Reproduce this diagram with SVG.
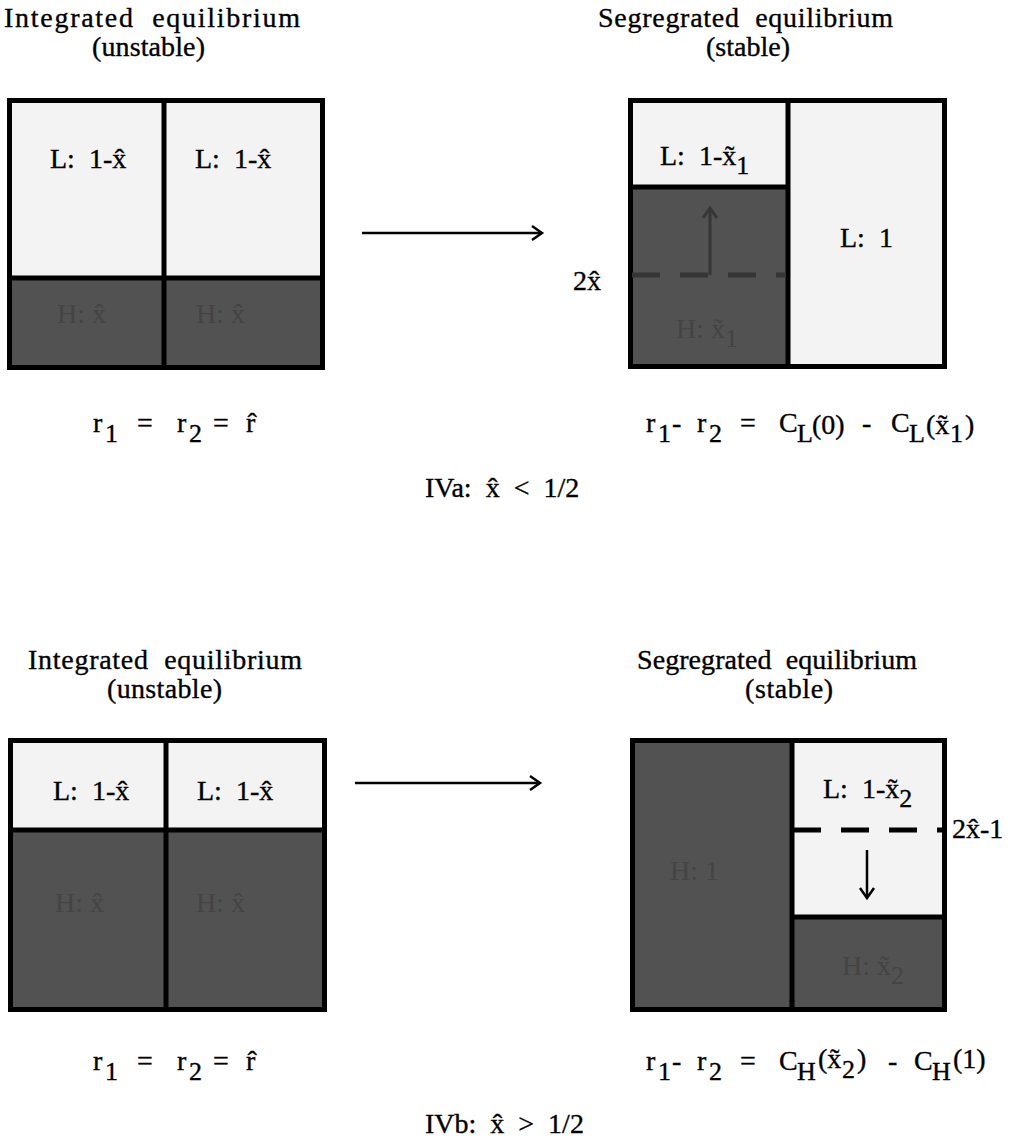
<svg xmlns="http://www.w3.org/2000/svg" width="1022" height="1148" viewBox="0 0 1022 1148">
<style>
text{font-family:"Liberation Serif","Times New Roman",serif;font-size:28px;fill:#000;stroke:#000;stroke-width:0.35;white-space:pre}
.sub{font-size:26px}
.lt{fill:#f3f3f3}
.dk{fill:#525252}
.bd{fill:none;stroke:#000;stroke-width:5}
.ln{stroke:#000;stroke-width:5}
text.fa{fill:#444;stroke:none}
.conn{stroke:#000;stroke-width:2.5;fill:none}
.dconn{stroke:#363636;stroke-width:3;fill:none}
.dash{stroke:#000;stroke-width:5;stroke-dasharray:28 20}
.ddash{stroke:#363636;stroke-width:5;stroke-dasharray:28 20}
</style>
<defs>
<marker id="ah" markerUnits="userSpaceOnUse" markerWidth="16" markerHeight="18" refX="13" refY="9" orient="auto"><path d="M3,2 L13,9 L3,16" fill="none" stroke="#000" stroke-width="2.5"/></marker>
<marker id="ahd" markerUnits="userSpaceOnUse" markerWidth="16" markerHeight="18" refX="13" refY="9" orient="auto"><path d="M3,2 L13,9 L3,16" fill="none" stroke="#363636" stroke-width="3"/></marker>
</defs>

<!-- Titles -->
<g id="title-top-left">
<text x="4" y="27" textLength="296" lengthAdjust="spacing">Integrated  equilibrium</text>
<text x="92" y="56" textLength="113" lengthAdjust="spacing">(unstable)</text>
</g>
<g id="title-top-right">
<text x="598" y="27" textLength="295" lengthAdjust="spacing">Segregrated  equilibrium</text>
<text x="706" y="56" textLength="84" lengthAdjust="spacing">(stable)</text>
</g>
<g id="title-bottom-left">
<text x="28" y="669" textLength="274" lengthAdjust="spacing">Integrated  equilibrium</text>
<text x="107" y="698" textLength="115" lengthAdjust="spacing">(unstable)</text>
</g>
<g id="title-bottom-right">
<text x="637" y="669" textLength="280" lengthAdjust="spacing">Segregrated  equilibrium</text>
<text x="745" y="698" textLength="88" lengthAdjust="spacing">(stable)</text>
</g>

<!-- Top-left box: integrated -->
<g id="box-ia">
<rect class="lt" x="7" y="98" width="318" height="180"/>
<rect class="dk" x="7" y="278" width="318" height="92"/>
<rect class="bd" x="9.5" y="100.5" width="313" height="267"/>
<line class="ln" x1="164" y1="98" x2="164" y2="370"/>
<line class="ln" x1="7" y1="278" x2="325" y2="278"/>
<text x="50" y="168">L:  1-x̂</text>
<text x="195" y="168">L:  1-x̂</text>
<text class="fa" x="57" y="323">H: x̂</text>
<text class="fa" x="196" y="323">H: x̂</text>
</g>

<!-- Top-right box: segregated -->
<g id="box-sa">
<rect class="lt" x="628" y="98" width="160" height="89"/>
<rect class="dk" x="628" y="187" width="160" height="182"/>
<rect class="lt" x="788" y="98" width="159" height="271"/>
<rect class="bd" x="630.5" y="100.5" width="314" height="266"/>
<line class="ln" x1="788" y1="98" x2="788" y2="369"/>
<line class="ln" x1="628" y1="187" x2="788" y2="187"/>
<line class="ddash" x1="632" y1="275" x2="786" y2="275"/>
<line class="dconn" x1="710" y1="275" x2="710" y2="208" marker-end="url(#ahd)"/>
<text x="660" y="165">L:  1-x̃<tspan class="sub" dy="9">1</tspan></text>
<text x="840" y="247">L:  1</text>
<text class="fa" x="676" y="338">H: x̃<tspan class="sub" dy="9">1</tspan></text>
<text x="573" y="290">2x̂</text>
</g>

<!-- Bottom-left box: integrated -->
<g id="box-ib">
<rect class="lt" x="8" y="738" width="319" height="92"/>
<rect class="dk" x="8" y="830" width="319" height="182"/>
<rect class="bd" x="10.5" y="740.5" width="314" height="269"/>
<line class="ln" x1="166" y1="738" x2="166" y2="1012"/>
<line class="ln" x1="8" y1="830" x2="327" y2="830"/>
<text x="53" y="800">L:  1-x̂</text>
<text x="197" y="800">L:  1-x̂</text>
<text class="fa" x="55" y="912">H: x̂</text>
<text class="fa" x="196" y="912">H: x̂</text>
</g>

<!-- Bottom-right box: segregated -->
<g id="box-sb">
<rect class="dk" x="630" y="738" width="162" height="274"/>
<rect class="lt" x="792" y="738" width="155" height="179"/>
<rect class="dk" x="792" y="917" width="155" height="95"/>
<rect class="bd" x="632.5" y="740.5" width="312" height="269"/>
<line class="ln" x1="792" y1="738" x2="792" y2="1012"/>
<line class="ln" x1="792" y1="917" x2="947" y2="917"/>
<line class="dash" x1="793" y1="830" x2="947" y2="830"/>
<line class="conn" x1="867" y1="850" x2="867" y2="898" marker-end="url(#ah)"/>
<text x="823" y="798">L:  1-x̃<tspan class="sub" dy="9">2</tspan></text>
<text class="fa" x="670" y="880">H: 1</text>
<text class="fa" x="842" y="975">H: x̃<tspan class="sub" dy="9">2</tspan></text>
<text x="952" y="838">2x̂-1</text>
</g>

<!-- Connectors -->
<g id="connectors">
<line class="conn" x1="362" y1="233" x2="542" y2="233" marker-end="url(#ah)"/>
<line class="conn" x1="355" y1="783" x2="540" y2="783" marker-end="url(#ah)"/>
</g>

<!-- Equations -->
<g id="eq-top-left">
<text x="93" y="432">r</text><text class="sub" x="105" y="442">1</text>
<text x="137" y="432">=</text>
<text x="177" y="432">r</text><text class="sub" x="189" y="442">2</text>
<text x="213" y="432">=</text>
<text x="246" y="432">r̂</text>
</g>
<g id="eq-top-right">
<text x="646" y="432">r</text><text class="sub" x="658" y="442">1</text>
<text x="672" y="432">-</text>
<text x="697" y="432">r</text><text class="sub" x="709" y="442">2</text>
<text x="740" y="432">=</text>
<text x="779" y="432">C</text><text class="sub" x="797" y="442">L</text>
<text x="812" y="434">(0)</text>
<text x="862" y="432">-</text>
<text x="891" y="432">C</text><text class="sub" x="909" y="442">L</text>
<text x="926" y="434">(x̃</text><text class="sub" x="950" y="442">1</text><text x="965" y="434">)</text>
</g>
<g id="label-iva">
<text x="425" y="497">IVa:  x̂  &lt;  1/2</text>
</g>

<g id="eq-bottom-left">
<text x="93" y="1070">r</text><text class="sub" x="105" y="1080">1</text>
<text x="137" y="1070">=</text>
<text x="177" y="1070">r</text><text class="sub" x="189" y="1080">2</text>
<text x="213" y="1070">=</text>
<text x="246" y="1070">r̂</text>
</g>
<g id="eq-bottom-right">
<text x="646" y="1070">r</text><text class="sub" x="658" y="1080">1</text>
<text x="672" y="1070">-</text>
<text x="697" y="1070">r</text><text class="sub" x="709" y="1080">2</text>
<text x="740" y="1070">=</text>
<text x="779" y="1070">C</text><text class="sub" x="797" y="1080">H</text>
<text x="818" y="1068">(x̃</text><text class="sub" x="842" y="1078">2</text><text x="857" y="1068">)</text>
<text x="888" y="1070">-</text>
<text x="914" y="1070">C</text><text class="sub" x="932" y="1080">H</text>
<text x="953" y="1068">(1)</text>
</g>
<g id="label-ivb">
<text x="425" y="1133">IVb:  x̂  &gt;  1/2</text>
</g>
</svg>
